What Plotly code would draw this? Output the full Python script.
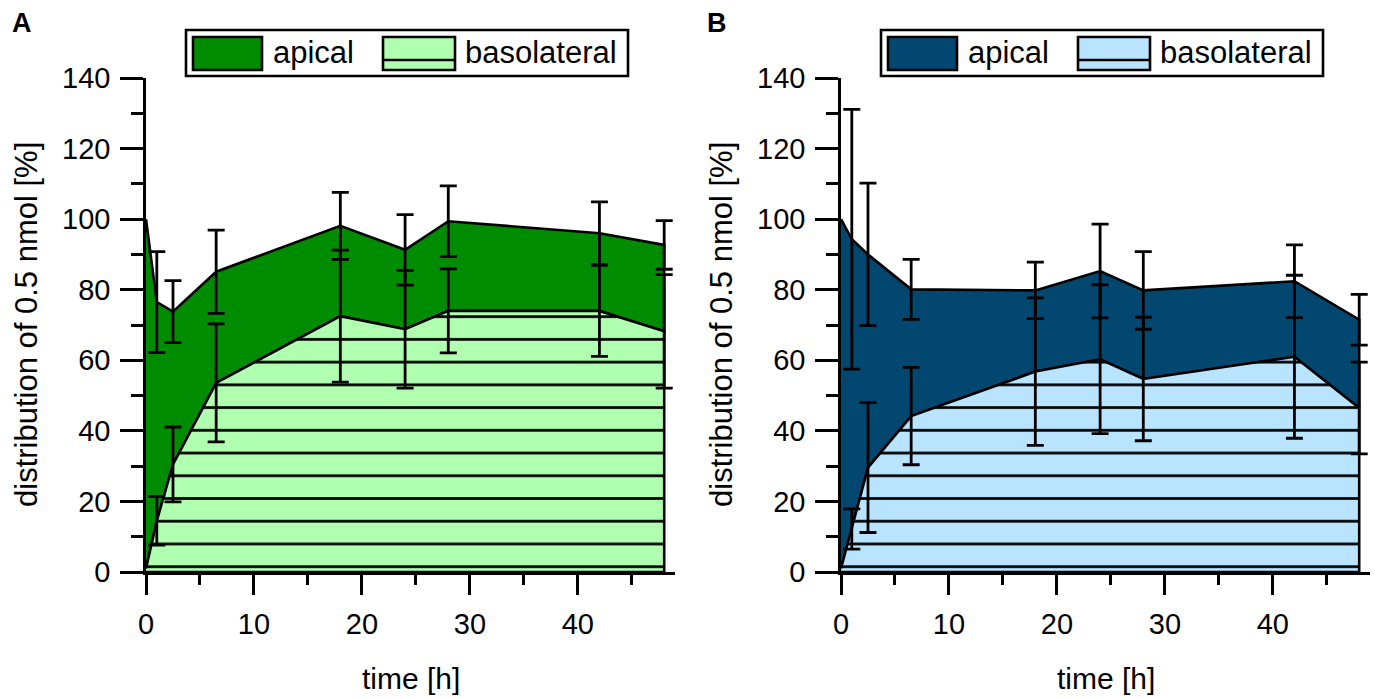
import plotly.graph_objects as go

W, H = 1375, 698

# ---------------- data ----------------
time_h = [0, 1, 2.5, 6.5, 18, 24, 28, 42, 48]

# Panel A (green)
apical_A = [99, 62.0, 43.3, 31.5, 25.6, 22.5, 25.4, 22.0, 24.5]
apical_A_sd = [None, 14.3, 8.8, 11.8, 9.5, 10.0, 10.0, 8.9, 6.9]
baso_A = [1, 14.5, 30.5, 53.6, 72.5, 68.8, 74.0, 74.0, 68.2]
baso_A_sd = [None, 6.9, 10.6, 16.7, 18.7, 16.7, 11.9, 12.9, 16.1]

# Panel B (blue)
apical_B = [99, 82.1, 60.4, 35.9, 23.0, 25.0, 25.1, 21.4, 25.0]
apical_B_sd = [None, 36.8, 20.2, 8.5, 8.0, 13.3, 11.0, 10.3, 7.2]
baso_B = [1, 12.2, 29.6, 44.2, 56.8, 60.3, 54.7, 61.0, 46.5]
baso_B_sd = [None, 5.7, 18.4, 13.8, 20.9, 21.1, 17.5, 23.1, 13.0]

x_ticks = [0, 10, 20, 30, 40]
y_ticks = [0, 20, 40, 60, 80, 100, 120, 140]
series_names = ["apical", "basolateral"]
panel_labels = ["A", "B"]
x_title = "time [h]"
y_title = "distribution of 0.5 nmol [%]"

# ---------------- styling ----------------
FONT = "Liberation Sans, Arial, sans-serif"
colors = {
    "A": ("#008c00", "#b0ffb0"),
    "B": ("#02476f", "#b8e4ff"),
}
LW = 2.6
EW = 2.8


def px(x):
    return x / W


def py(y):
    return 1 - y / H


fig = go.Figure()

panels = [
    ("A", "x", "y", apical_A, apical_A_sd, baso_A, baso_A_sd),
    ("B", "x2", "y2", apical_B, apical_B_sd, baso_B, baso_B_sd),
]

for name, xa, ya, ap, ap_sd, ba, ba_sd in panels:
    dark, light = colors[name]
    top = [a + b for a, b in zip(ap, ba)]
    # apical band (between basolateral and total)
    fig.add_trace(go.Scatter(
        x=time_h + time_h[::-1], y=top + ba[::-1],
        fill="toself", fillcolor=dark, mode="lines",
        line=dict(color="black", width=LW),
        xaxis=xa, yaxis=ya, showlegend=False, hoverinfo="skip",
    ))
    # basolateral area (hatched)
    fig.add_trace(go.Scatter(
        x=time_h + [time_h[-1], time_h[0]], y=ba + [0, 0],
        fill="toself", fillcolor=light, mode="lines",
        fillpattern=dict(shape="-", size=22.73, solidity=0.12,
                         fgcolor="black", bgcolor=light, fillmode="replace"),
        line=dict(color="black", width=LW),
        xaxis=xa, yaxis=ya, showlegend=False, hoverinfo="skip",
    ))
    # error bars (only where a SD exists)
    for yy, sd in ((top, ap_sd), (ba, ba_sd)):
        idx = [i for i, s in enumerate(sd) if s is not None]
        fig.add_trace(go.Scatter(
            x=[time_h[i] for i in idx], y=[yy[i] for i in idx], mode="markers",
            marker=dict(size=1, color="rgba(0,0,0,0)"),
            error_y=dict(type="data", array=[sd[i] for i in idx], symmetric=True,
                         color="black", thickness=EW, width=8.5),
            xaxis=xa, yaxis=ya, showlegend=False, hoverinfo="skip",
        ))

common_x = dict(
    range=[0, 49], tickvals=x_ticks, ticks="outside", ticklen=20,
    tickwidth=LW, tickcolor="black", showline=True, linecolor="black",
    linewidth=LW, showgrid=False, zeroline=False, automargin=False,
    tickfont=dict(family=FONT, size=29, color="black"),
    minor=dict(ticks="outside", dtick=5, tick0=0, ticklen=10,
               tickwidth=LW, tickcolor="black", showgrid=False),
    ticklabelstandoff=4,
)
common_y = dict(
    range=[0, 140], tickvals=y_ticks, ticks="outside", ticklen=23,
    tickwidth=LW, tickcolor="black", showline=True, linecolor="black",
    linewidth=LW, showgrid=False, zeroline=False, automargin=False,
    tickfont=dict(family=FONT, size=29, color="black"),
    minor=dict(ticks="outside", dtick=10, tick0=0, ticklen=12,
               tickwidth=LW, tickcolor="black", showgrid=False),
    ticklabelstandoff=4,
)

yd = [py(572), py(78)]
fig.update_layout(
    width=W, height=H,
    margin=dict(l=0, r=0, t=0, b=0, pad=0, autoexpand=False),
    paper_bgcolor="white", plot_bgcolor="white",
    xaxis=dict(domain=[px(146), px(675)], anchor="y", **common_x),
    yaxis=dict(domain=yd, anchor="x", **common_y),
    xaxis2=dict(domain=[px(841), px(1370)], anchor="y2", **common_x),
    yaxis2=dict(domain=yd, anchor="x2", **common_y),
    showlegend=False,
)

shapes = []
annotations = []
for i, name in enumerate(panel_labels):
    dx = 0 if i == 0 else 695
    dark, light = colors[name]
    # legend frame
    shapes.append(dict(type="rect", xref="paper", yref="paper",
                       x0=px(186 + dx), x1=px(628 + dx), y0=py(76), y1=py(30),
                       line=dict(color="black", width=LW), fillcolor="white"))
    # apical swatch
    shapes.append(dict(type="rect", xref="paper", yref="paper",
                       x0=px(193 + dx), x1=px(262 + dx), y0=py(70), y1=py(37),
                       line=dict(color="black", width=LW), fillcolor=dark))
    # basolateral swatch
    shapes.append(dict(type="rect", xref="paper", yref="paper",
                       x0=px(383 + dx), x1=px(455 + dx), y0=py(70), y1=py(37),
                       line=dict(color="black", width=LW), fillcolor=light))
    shapes.append(dict(type="line", xref="paper", yref="paper",
                       x0=px(383 + dx), x1=px(455 + dx), y0=py(60), y1=py(60),
                       line=dict(color="black", width=LW)))
    annotations.append(dict(text=series_names[0], xref="paper", yref="paper",
                            x=px(271 + dx), y=py(53), xanchor="left", yanchor="middle",
                            showarrow=False, font=dict(family=FONT, size=31, color="black")))
    annotations.append(dict(text=series_names[1], xref="paper", yref="paper",
                            x=px(463 + dx), y=py(53), xanchor="left", yanchor="middle",
                            showarrow=False, font=dict(family=FONT, size=31, color="black")))
    # panel letter
    annotations.append(dict(text="<b>%s</b>" % name, xref="paper", yref="paper",
                            x=px(10 + dx), y=py(23), xanchor="left", yanchor="middle",
                            showarrow=False, font=dict(family=FONT, size=27, color="black")))
    # axis titles
    annotations.append(dict(text=x_title, xref="paper", yref="paper",
                            x=px((146 + 675) / 2 + dx), y=py(678), xanchor="center",
                            yanchor="middle", showarrow=False,
                            font=dict(family=FONT, size=30, color="black")))
    annotations.append(dict(text=y_title, xref="paper", yref="paper",
                            x=px(26 + dx), y=py(325), xanchor="center",
                            yanchor="middle", textangle=-90, showarrow=False,
                            font=dict(family=FONT, size=31, color="black")))

fig.update_layout(shapes=shapes, annotations=annotations)

fig.write_html(
    "out.html",
    config={"displayModeBar": False},
    post_script="document.body.style.margin='0';document.body.style.padding='0';",
)
